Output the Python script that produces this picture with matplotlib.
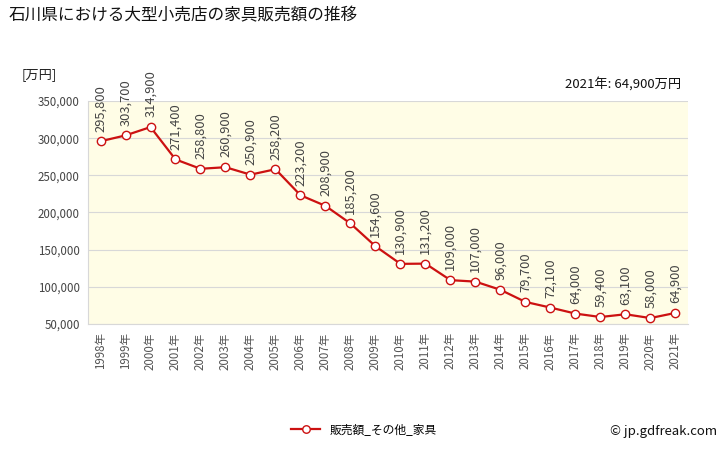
import matplotlib
matplotlib.use("Agg")
import matplotlib.pyplot as plt
from matplotlib.ticker import FuncFormatter

plt.rcParams['font.family'] = ['Noto Sans CJK JP', 'DejaVu Sans']

years = [str(y) for y in range(1998, 2022)]
values = [295800, 303700, 314900, 271400, 258800, 260900, 250900, 258200,
          223200, 208900, 185200, 154600, 130900, 131200, 109000, 107000,
          96000, 79700, 72100, 64000, 59400, 63100, 58000, 64900]
xlabels = [y + "年" for y in years]

fig = plt.figure(figsize=(7.28, 4.5), dpi=100)
ax = fig.add_axes([0.1209, 0.28, 0.824, 0.4956])
ax.set_facecolor('#FFFDE6')
x = list(range(len(years)))
ax.plot(x, values, color='#CC1111', lw=1.6, marker='o', ms=6,
        markerfacecolor='white', markeredgecolor='#CC1111', markeredgewidth=1.0,
        label='販売額_その他_家具', zorder=3)
for xi, v in zip(x, values):
    ax.annotate(f"{v:,}", (xi, v), xytext=(0, 7), textcoords='offset points',
                rotation=90, ha='center', va='bottom', fontsize=9.3, color='#444444')
ax.set_xlim(-0.5, len(years) - 0.5)
ax.set_ylim(50000, 350000)
ax.set_yticks(range(50000, 350001, 50000))
ax.yaxis.set_major_formatter(FuncFormatter(lambda v, p: f"{int(v):,}"))
ax.set_xticks(x)
ax.set_xticklabels(xlabels, rotation=90, fontsize=8.3, color='#555555')
ax.tick_params(axis='y', labelsize=8.3, colors='#444444', length=0, pad=6)
ax.tick_params(axis='x', length=0, pad=6)
ax.grid(axis='y', color='#D8D8D8', lw=0.8)
ax.set_axisbelow(True)
for s in ['top', 'right']:
    ax.spines[s].set_visible(False)
ax.spines['left'].set_color('#D8D8D8')
ax.spines['bottom'].set_color('#D8D8D8')

fig.text(0.012, 0.965, '石川県における大型小売店の家具販売額の推移', fontsize=12, va='center', color='#111111')
fig.text(0.03, 0.835, '[万円]', fontsize=9.5, va='center', color='#222222')
fig.text(0.935, 0.815, '2021年: 64,900万円', fontsize=9.5, va='center', ha='right', color='#111111')
fig.text(0.985, 0.04, '© jp.gdfreak.com', fontsize=9.5, va='center', ha='right', color='#111111')
fig.legend(loc='center', bbox_to_anchor=(0.5, 0.045), frameon=False, fontsize=8.5,
           handlelength=2.5, markerscale=0.9)
fig.savefig('out.png', dpi=100)
